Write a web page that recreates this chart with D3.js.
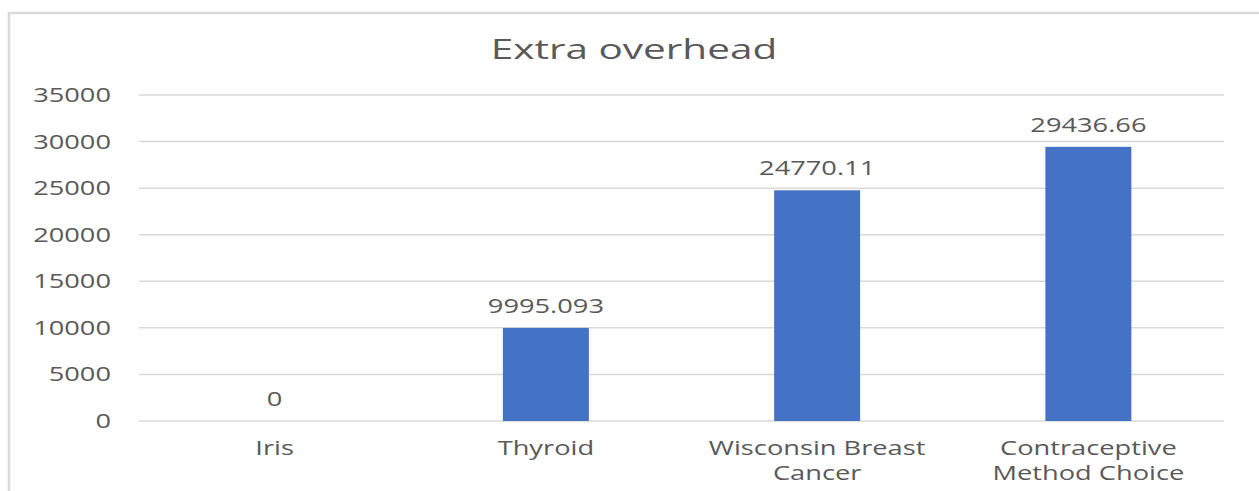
<!DOCTYPE html>
<html>
<head>
<meta charset="utf-8">
<script src="https://cdn.jsdelivr.net/npm/d3@7"></script>
<style>
  body { margin: 0; background: #fff; }
  text { font-family: "Open Sans", sans-serif; fill: #595959; }
</style>
</head>
<body>
<div id="chart"></div>
<script>
// data
var categories = [["Iris"], ["Thyroid"], ["Wisconsin Breast", "Cancer"], ["Contraceptive", "Method Choice"]];
var values = [0, 9995.093, 24770.11, 29436.66];
var valueLabels = ["0", "9995.093", "24770.11", "29436.66"];
var yTicks = [0, 5000, 10000, 15000, 20000, 25000, 30000, 35000];
var title = "Extra overhead";

var W = 1259, H = 491;
var margin = {top: 95, right: 35, bottom: 70, left: 139},
    width = 1224 - margin.left,
    height = 421 - margin.top;
var sx = 1.39; // the picture is stretched sideways

var svg = d3.select("#chart").append("svg")
    .attr("width", W)
    .attr("height", H);

// chart border
svg.append("rect")
    .attr("x", 9).attr("y", 13)
    .attr("width", 1300).attr("height", 600)
    .attr("fill", "none")
    .attr("stroke", "#d9d9d9")
    .attr("stroke-width", 2.5);

svg.append("g")
    .attr("transform", "translate(634,59) scale(1.5,1)")
  .append("text")
    .attr("text-anchor", "middle")
    .style("font-size", "27px")
    .text(title);

var g = svg.append("g")
    .attr("transform", "translate(" + margin.left + "," + margin.top + ")");

var x = d3.scaleBand()
    .domain(d3.range(categories.length))
    .range([0, width])
    .paddingInner(0.683)
    .paddingOuter(0.3415);
var y = d3.scaleLinear()
    .domain([0, 35000])
    .range([height, 0]);

// gridlines
g.selectAll(".grid")
    .data(yTicks)
  .enter().append("line")
    .attr("x1", 0).attr("x2", width)
    .attr("y1", d => y(d)).attr("y2", d => y(d))
    .attr("stroke", "#d9d9d9")
    .attr("stroke-width", 1.5);

// y tick labels
g.selectAll(".ytick")
    .data(yTicks)
  .enter().append("g")
    .attr("transform", d => "translate(-28," + (y(d) + 7) + ") scale(" + sx + ",1)")
  .append("text")
    .attr("text-anchor", "end")
    .style("font-size", "19.6px")
    .text(d => d);

// bars
g.selectAll(".bar")
    .data(values)
  .enter().append("rect")
    .attr("x", (d, i) => x(i))
    .attr("width", x.bandwidth())
    .attr("y", d => y(d))
    .attr("height", d => height - y(d))
    .attr("fill", "#4472C4");

// value labels
g.selectAll(".vlabel")
    .data(values)
  .enter().append("g")
    .attr("transform", (d, i) => "translate(" + (x(i) + x.bandwidth() / 2) + "," + (y(d) - 15) + ") scale(" + sx + ",1)")
  .append("text")
    .attr("text-anchor", "middle")
    .style("font-size", "19.6px")
    .text((d, i) => valueLabels[i]);

// category labels
var cat = g.selectAll(".cat")
    .data(categories)
  .enter().append("g")
    .attr("transform", (d, i) => "translate(" + (x(i) + x.bandwidth() / 2) + "," + (height + 34) + ") scale(" + sx + ",1)");
cat.selectAll("text")
    .data(d => d)
  .enter().append("text")
    .attr("text-anchor", "middle")
    .attr("y", (d, j) => j * 25)
    .style("font-size", "19.6px")
    .text(d => d);
</script>
</body>
</html>
